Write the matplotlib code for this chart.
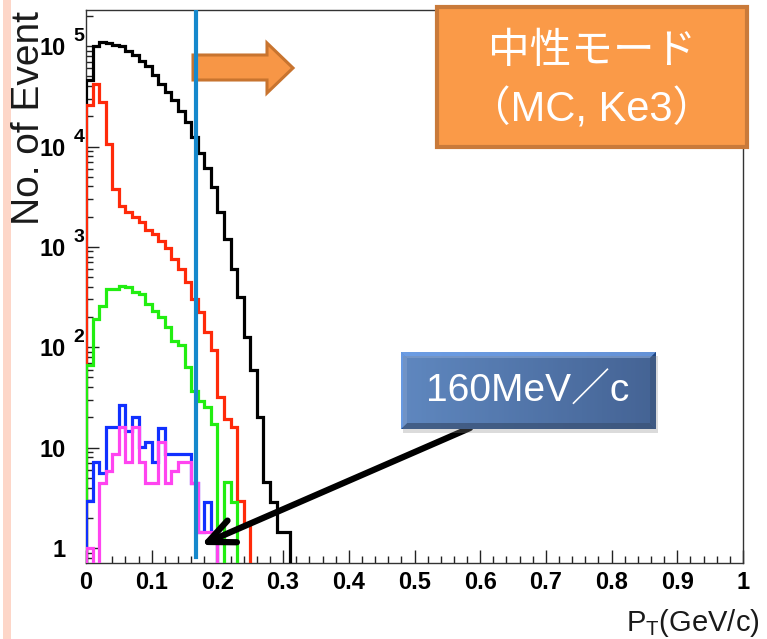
import numpy as np
import matplotlib
matplotlib.use('Agg')
import matplotlib.pyplot as plt
from matplotlib.patches import Rectangle, Polygon
from matplotlib.colors import LinearSegmentedColormap
from matplotlib.ticker import FixedLocator, LogLocator, MultipleLocator, NullFormatter

plt.rcParams['mathtext.fontset'] = 'custom'
plt.rcParams['mathtext.rm'] = 'Liberation Sans'
plt.rcParams['mathtext.it'] = 'Liberation Sans:italic'
plt.rcParams['mathtext.bf'] = 'Liberation Sans:bold'

# ---------------- data ----------------
n_bins = 100
bin_width = 0.01

black_counts = [45700, 101000, 110000, 107000, 103500, 100000, 90200, 82200, 71800, 63100,
                51300, 41700, 34700, 28800, 22400, 17400, 12300, 8700, 6170, 3940,
                2220, 1200, 603, 316, 126, 60, 20, 4.5, 2.9, 1.45, 1.45]
red_counts = [25700, 41700, 27500, 10700, 3800, 2570, 2240, 2000, 1780, 1480,
              1350, 1150, 966, 759, 603, 447, 302, 224, 141, 93,
              32, 19.5, 16.2, 2.95, 1.78]
green_counts = [66, 190, 257, 380, 380, 407, 398, 355, 339, 269,
                229, 200, 158, 115, 105, 63, 37, 29.5, 25.7, 17.4,
                0, 4.5, 2.9]
blue_counts = [2.95, 7.2, 5.6, 16.2, 16.2, 26.9, 14.5, 20.4, 10.2, 11.5,
               7.2, 15.8, 8.7, 8.7, 8.7, 8.7, 4.4, 1.45, 2.9, 1.45]
magenta_counts = [1.0, 0, 4.4, 5.9, 8.7, 16.2, 7.2, 16.2, 7.2, 4.4,
                  4.4, 11.5, 4.4, 5.9, 7.2, 7.2, 4.4, 1.45, 1.45, 1.45]

series = [
    ("black", black_counts, "#000000"),
    ("red", red_counts, "#FF2A0A"),
    ("green", green_counts, "#22EE11"),
    ("blue", blue_counts, "#1030FF"),
    ("magenta", magenta_counts, "#FF44F0"),
]

cut_value = 0.168  # GeV/c position of vertical line
xticks = [0, 0.1, 0.2, 0.3, 0.4, 0.5, 0.6, 0.7, 0.8, 0.9, 1.0]
xtick_labels = ["0", "0.1", "0.2", "0.3", "0.4", "0.5", "0.6", "0.7", "0.8", "0.9", "1"]
yticks = [1, 10, 100, 1000, 10000, 100000]
ytick_main = ["1", "10", "10", "10", "10", "10"]
ytick_sup = ["", "", "2", "3", "4", "5"]
ylim = (10 ** -0.149, 10 ** 5.36)

W, H = 767, 639
def fx(x): return x / W
def fy(y): return 1 - y / H

fig = plt.figure(figsize=(W / 100, H / 100), dpi=100)
fig.patch.set_facecolor('white')

# left decorative pink stripe
fig.patches.append(Rectangle((fx(3), 0), fx(8), 1, transform=fig.transFigure,
                             facecolor='#FDD6C8', edgecolor='none', zorder=0))

ax = fig.add_axes([fx(86), fy(563), (743 - 86) / W, (563 - 10) / H])
ax.set_facecolor('white')
ax.set_yscale('log')
ax.set_xlim(0, 1)
ax.set_ylim(*ylim)

edges = np.linspace(0, n_bins * bin_width, n_bins + 1)
for name, vals, col in series:
    full = np.zeros(n_bins)
    full[:len(vals)] = vals
    draw = np.where(full > 0, full, 1e-3)
    ax.stairs(draw, edges, baseline=1e-3, color=col, lw=2.3, zorder=3)

# orange arrow (behind the cut line)
arrow_px = [(193, 55), (267, 55), (267, 43), (293, 68), (267, 93), (267, 80), (193, 80)]
ax.add_patch(Polygon([(fx(x), fy(y)) for x, y in arrow_px], closed=True,
                     transform=fig.transFigure, facecolor='#F79646', edgecolor='#C8742F',
                     lw=2.2, zorder=4, clip_on=False))

# cut line
ax.axvline(cut_value, ymin=0.011, ymax=1, color='#1588CC', lw=3.0, zorder=5)

# spines / ticks
for s in ax.spines.values():
    s.set_color('#333333')
    s.set_linewidth(1.0)
    s.set_zorder(2.5)

ax.xaxis.set_major_locator(FixedLocator(xticks))
ax.xaxis.set_minor_locator(MultipleLocator(0.02))
ax.set_xticklabels(xtick_labels, fontsize=17, fontweight='bold', family='Liberation Sans')
ax.yaxis.set_major_locator(FixedLocator(yticks))
ax.yaxis.set_minor_locator(LogLocator(base=10, subs=np.arange(2, 10)))
ax.yaxis.set_minor_formatter(NullFormatter())
ax.set_yticklabels(ytick_main, fontsize=17, fontweight='bold', family='Liberation Sans')
ax.tick_params(which='both', direction='in', top=False, right=False, color='#222222')
ax.tick_params(axis='x', which='major', length=9.4, width=1.0, pad=5.5)
ax.tick_params(axis='x', which='minor', length=4.7, width=1.0)
ax.tick_params(axis='y', which='major', length=9.4, width=1.0, pad=14.5)
ax.tick_params(axis='y', which='minor', length=4.7, width=1.0)

for val, sup in zip(yticks, ytick_sup):
    if sup:
        ax.annotate(sup, xy=(0, val), xycoords=('axes fraction', 'data'),
                    xytext=(-9.0, 6.8), textcoords='offset points', ha='left', va='center',
                    fontsize=14, fontweight='bold', family='Liberation Sans',
                    annotation_clip=False)

# axis titles
fig.text(fx(29), fy(118), 'No. of Event', rotation=90, ha='center', va='center',
         fontsize=28, family='Liberation Sans', color='#1a1a1a')
fig.text(fx(760), fy(631), r'P$_\mathrm{T}$(GeV/c)', ha='right', va='baseline',
         fontsize=21, family='Liberation Sans', color='#1a1a1a')

# black arrow
ax.annotate('', xy=(201, H - 545), xycoords='figure pixels',
            xytext=(470, H - 428), textcoords='figure pixels',
            arrowprops=dict(arrowstyle='->, head_length=1.9, head_width=0.85',
                            lw=4.5, color='black', shrinkA=0, shrinkB=0))

# blue label box with gradient
bx0, by0, bx1, by1 = 401, 352, 656, 429
fig.patches.append(Rectangle((fx(bx0 + 2), fy(by1 + 4)), fx(bx1 - bx0), (by1 - by0) / H,
                             transform=fig.transFigure, facecolor='#888888', alpha=0.3,
                             edgecolor='none', zorder=1))
bax = fig.add_axes([fx(bx0), fy(by1), (bx1 - bx0) / W, (by1 - by0) / H])
bax.set_axis_off()
cmap = LinearSegmentedColormap.from_list('bluegrad', ['#4E88D8', '#28549A'])
g = np.linspace(0, 1, 256)
bax.imshow(np.vstack([g, g]), aspect='auto', cmap=cmap, extent=[0, 1, 0, 1])
dx, dy = 6 / (bx1 - bx0), 6 / (by1 - by0)
bax.add_patch(Polygon([(0, 1), (1, 1), (1 - dx, 1 - dy), (dx, 1 - dy)], facecolor='#74A2E6', edgecolor='none', alpha=0.8))
bax.add_patch(Polygon([(0, 0), (1, 0), (1 - dx, dy), (dx, dy)], facecolor='#1C3F74', edgecolor='none', alpha=0.8))
bax.add_patch(Polygon([(0, 0), (0, 1), (dx, 1 - dy), (dx, dy)], facecolor='#6E9EE4', edgecolor='none', alpha=0.8))
bax.add_patch(Polygon([(1, 0), (1, 1), (1 - dx, 1 - dy), (1 - dx, dy)], facecolor='#1F447D', edgecolor='none', alpha=0.8))
bax.set_xlim(0, 1)
bax.set_ylim(0, 1)
fig.text(fx(528), fy(392), '160MeV／c', ha='center', va='center', color='white',
         fontsize=28, family=['Liberation Sans', 'Noto Sans CJK JP'], zorder=6)

# orange title box
fig.patches.append(Rectangle((fx(437), fy(147)), fx(747 - 437), (147 - 7) / H,
                             transform=fig.transFigure, facecolor='#FA9A48',
                             edgecolor='#C97A3A', lw=3, zorder=2))
fig.text(fx(592), fy(52), '中性モード', ha='center', va='center', color='white',
         fontsize=30, family=['Noto Sans CJK JP'], zorder=6)
fig.text(fx(592), fy(110), '（MC, Ke3）', ha='center', va='center', color='white',
         fontsize=30, family=['Liberation Sans', 'Noto Sans CJK JP'], zorder=6)

fig.savefig('out.png', dpi=100)
